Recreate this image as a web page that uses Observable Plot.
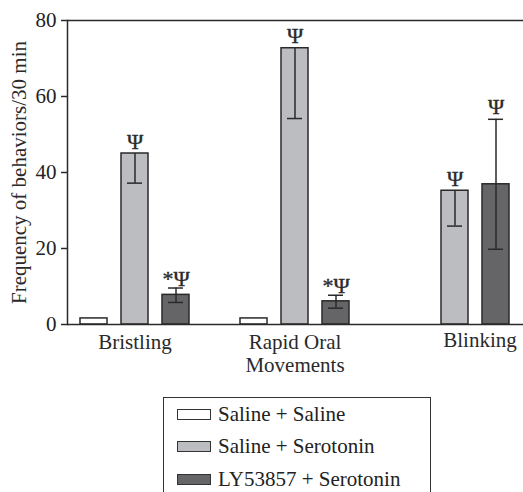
<!DOCTYPE html>
<html>
<head>
<meta charset="utf-8">
<script src="https://cdn.jsdelivr.net/npm/d3@7"></script>
<script src="https://cdn.jsdelivr.net/npm/@observablehq/plot@0.6"></script>
<style>
  html, body { margin: 0; padding: 0; background: #fff; }
  body { width: 523px; height: 492px; overflow: hidden; font-family: "Liberation Serif", "DejaVu Serif", serif; color: #222; }
  #legend { margin-left: 163px; margin-top: 17px; width: 268px; height: 120px; border: 1.5px solid #333; border-bottom: none; box-sizing: border-box; padding-top: 0px; }
  .item { display: flex; align-items: center; height: 32.5px; font-size: 21px; }
  .sw { width: 34px; height: 11px; border: 1.5px solid #333; margin-left: 13px; margin-right: 7px; box-sizing: border-box; }
</style>
</head>
<body>
<div id="chart"></div>
<div id="legend"></div>
<script>
const groups = ["Bristling", "Rapid Oral\nMovements", "Blinking"];
const series = ["Saline + Saline", "Saline + Serotonin", "LY53857 + Serotonin"];
const colors = ["#ffffff", "#bcbdc0", "#656567"];
const salineSaline = [1.6, 1.6, 0];
const salineSerotonin = [45, 72.7, 35.2];
const ly53857Serotonin = [7.8, 6.1, 36.9];
const lowerSalineSaline = [null, null, null];
const lowerSalineSerotonin = [37.2, 54.2, 25.9];
const lowerLy53857Serotonin = [5.8, 4.3, 19.8];
const upperSalineSaline = [null, null, null];
const upperSalineSerotonin = [null, null, null];
const upperLy53857Serotonin = [9.6, 7.7, 54.0];
const notesSalineSaline = ["", "", ""];
const notesSalineSerotonin = ["Ψ", "Ψ", "Ψ"];
const notesLy53857Serotonin = ["*Ψ", "*Ψ", "Ψ"];
const yTicks = [0, 20, 40, 60, 80];
const yLabel = "Frequency of behaviors/30 min";

const values = [salineSaline, salineSerotonin, ly53857Serotonin];
const lowers = [lowerSalineSaline, lowerSalineSerotonin, lowerLy53857Serotonin];
const uppers = [upperSalineSaline, upperSalineSerotonin, upperLy53857Serotonin];
const notes = [notesSalineSaline, notesSalineSerotonin, notesLy53857Serotonin];

const rows = series.map((s, si) => groups.map((g, gi) => ({
  series: s, si, group: g, value: values[si][gi],
  lo: lowers[si][gi], hi: uppers[si][gi], note: notes[si][gi]
})).filter(d => d.value > 0));

const offsets = [-41, 0, 41];
const ink = "#2a2a2a";
const font = "'Liberation Serif', 'DejaVu Serif', serif";
const marks = [];
rows.forEach((data, si) => {
  const dx = offsets[si];
  marks.push(Plot.barY(data, {x: "group", y: "value", fill: colors[si], stroke: ink, strokeWidth: 1.5, dx}));
  const withErr = data.filter(d => d.lo != null);
  marks.push(Plot.ruleX(withErr, {x: "group", y1: "lo", y2: d => d.hi != null ? d.hi : d.value, stroke: ink, strokeWidth: 1.5, dx}));
  marks.push(Plot.tickY(withErr, {x: "group", y: "lo", stroke: ink, strokeWidth: 1.5, insetLeft: 6, insetRight: 6, dx}));
  marks.push(Plot.tickY(withErr.filter(d => d.hi != null), {x: "group", y: "hi", stroke: ink, strokeWidth: 1.5, insetLeft: 6, insetRight: 6, dx}));
  const top = d => Math.max(d.value, d.hi != null ? d.hi : 0);
  marks.push(Plot.text(data.filter(d => d.note === "Ψ"), {x: "group", y: top, text: "note", lineAnchor: "bottom", dy: -5, dx, fontSize: 22, fill: ink, stroke: ink, strokeWidth: 0.4}));
  marks.push(Plot.text(data.filter(d => d.note === "*Ψ"), {x: "group", y: top, text: "note", lineAnchor: "bottom", dy: -2, dx, fontSize: 22, fill: ink, stroke: ink, strokeWidth: 0.4}));
});

const chart = Plot.plot({
  width: 523,
  height: 380,
  marginLeft: 67,
  marginRight: 0,
  marginTop: 20,
  marginBottom: 56,
  style: {fontFamily: font, fontSize: "21px", color: "#222", background: "#fff"},
  x: {domain: groups, paddingInner: 0.83, paddingOuter: 0.34, axis: null},
  y: {domain: [0, 80], axis: null},
  marks: [
    ...marks,
    Plot.ruleY([0, 80], {stroke: ink, strokeWidth: 1.5}),
    Plot.frame({anchor: "left", stroke: ink, strokeWidth: 1.5}),
    Plot.axisY({ticks: yTicks, tickSize: 6, tickPadding: 5, fontSize: 21, label: null, stroke: ink, strokeWidth: 1.5, fontFamily: font}),
    Plot.text(groups.slice(0, 2), {x: d => d, text: d => d, frameAnchor: "bottom", lineAnchor: "top", dy: 8, fontSize: 21, lineHeight: 1.1, fill: ink, fontFamily: font}),
    Plot.text(groups.slice(2), {x: d => d, text: d => d, frameAnchor: "bottom", lineAnchor: "top", dy: 8, dx: 25, fontSize: 21, fill: ink, fontFamily: font}),
    Plot.text([yLabel], {text: d => d, frameAnchor: "left", textAnchor: "middle", rotate: -90, dx: -48, fontSize: 21, fill: ink, fontFamily: font})
  ]
});
document.getElementById("chart").appendChild(chart);

const legend = document.getElementById("legend");
series.forEach((s, i) => {
  const item = document.createElement("div");
  item.className = "item";
  const sw = document.createElement("span");
  sw.className = "sw";
  sw.style.background = colors[i];
  const label = document.createElement("span");
  label.textContent = s;
  item.appendChild(sw);
  item.appendChild(label);
  legend.appendChild(item);
});
</script>
</body>
</html>
